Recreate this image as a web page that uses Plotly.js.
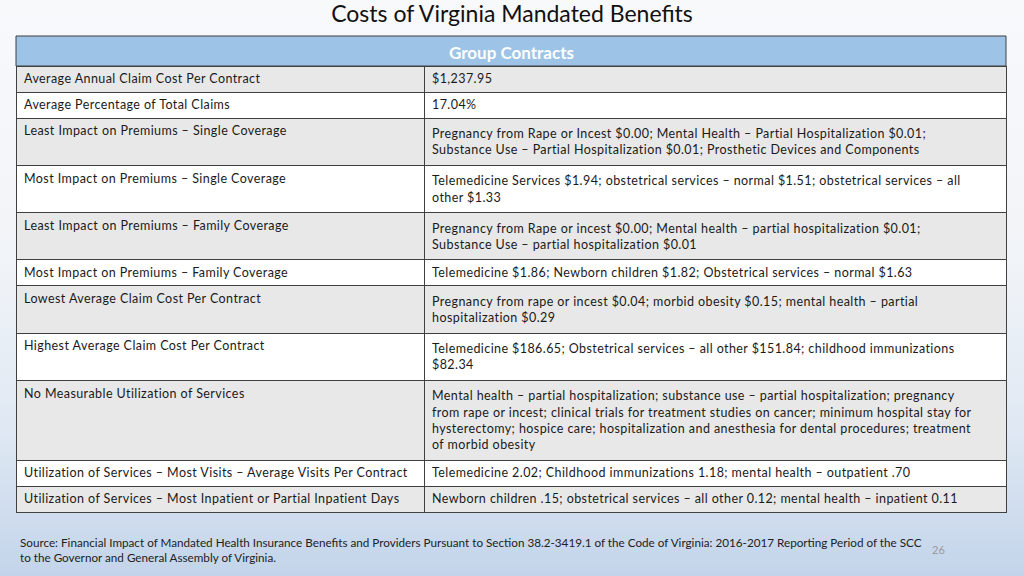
<!DOCTYPE html>
<html><head><meta charset="utf-8">
<script src="https://cdn.plot.ly/plotly-3.0.1.min.js"></script>
<style>
html,body{margin:0;padding:0;}
body{width:1024px;height:576px;overflow:hidden;background:linear-gradient(to bottom,#f8f9fb 0%,#f1f4f8 45%,#dfe8f3 75%,#c3d4ea 100%);}
#chart{width:1024px;height:576px;}
#chart .table .cell-text{letter-spacing:0.42px;}
</style></head>
<body><div id="chart"></div>
<script>
const chartTitle = "Costs of Virginia Mandated Benefits";
const groupHeader = "Group Contracts";
const measures = [
  "Average Annual Claim Cost Per Contract",
  "Average Percentage of Total Claims",
  "Least Impact on Premiums – Single Coverage",
  "Most Impact on Premiums – Single Coverage",
  "Least Impact on Premiums – Family Coverage",
  "Most Impact on Premiums – Family Coverage",
  "Lowest Average Claim Cost Per Contract",
  "Highest Average Claim Cost Per Contract",
  "No Measurable Utilization of Services",
  "Utilization of Services – Most Visits – Average Visits Per Contract",
  "Utilization of Services – Most Inpatient or Partial Inpatient Days"
];
const groupValues = [
  ["$1,237.95"],
  ["17.04%"],
  ["Pregnancy from Rape or Incest $0.00; Mental Health – Partial Hospitalization $0.01;",
   "Substance Use – Partial Hospitalization $0.01; Prosthetic Devices and Components"],
  ["Telemedicine Services $1.94; obstetrical services – normal $1.51; obstetrical services – all",
   "other $1.33"],
  ["Pregnancy from Rape or incest $0.00; Mental health – partial hospitalization $0.01;",
   "Substance Use – partial hospitalization $0.01"],
  ["Telemedicine $1.86; Newborn children $1.82; Obstetrical services – normal $1.63"],
  ["Pregnancy from rape or incest $0.04; morbid obesity $0.15; mental health – partial",
   "hospitalization $0.29"],
  ["Telemedicine $186.65; Obstetrical services – all other $151.84; childhood immunizations",
   "$82.34"],
  ["Mental health – partial hospitalization; substance use – partial hospitalization; pregnancy",
   "from rape or incest; clinical trials for treatment studies on cancer; minimum hospital stay for",
   "hysterectomy; hospice care; hospitalization and anesthesia for dental procedures; treatment",
   "of morbid obesity"],
  ["Telemedicine 2.02; Childhood immunizations 1.18; mental health – outpatient .70"],
  ["Newborn children .15; obstetrical services – all other 0.12; mental health – inpatient 0.11"]
];
const sourceNote = "Source: Financial Impact of Mandated Health Insurance Benefits and Providers Pursuant to Section 38.2-3419.1 of the Code of Virginia: 2016-2017 Reporting Period of the SCC<br>to the Governor and General Assembly of Virginia.";
const pageNumber = "26";

const W = 1024, H = 576;
const FONT = "Lato, 'Noto Sans', sans-serif";
const px = v => v / W, py = v => 1 - v / H;
const valueText = groupValues.map(l => l.join("<br>"));
const bodyFill = measures.slice(1).map((_, i) => i % 2 === 0 ? "#ffffff" : "#e8e8e8");
const cellFont = {family: FONT, size: 12.5, color: "#1a1a1a"};
const border = {color: "#404040", width: 1};

const trace = {
  type: "table",
  domain: {x: [px(16), px(1006)], y: [py(570), py(66)]},
  columnwidth: [408, 582],
  header: {
    values: [measures[0], valueText[0]],
    align: "left", height: 26,
    fill: {color: "#e8e8e8"}, line: border, font: cellFont
  },
  cells: {
    values: [measures.slice(1), valueText.slice(1)],
    align: "left", height: 26,
    fill: {color: [bodyFill, bodyFill]}, line: border, font: cellFont
  }
};

const layout = {
  width: W, height: H,
  margin: {l: 0, r: 0, t: 0, b: 0},
  paper_bgcolor: "rgba(0,0,0,0)",
  plot_bgcolor: "rgba(0,0,0,0)",
  title: {text: chartTitle, x: 0.5, xanchor: "center", y: py(14), yanchor: "middle",
          font: {family: FONT, size: 23, color: "#111"}},
  shapes: [{type: "rect", xref: "paper", yref: "paper", x0: px(16), x1: px(1006), y0: py(66), y1: py(36),
            fillcolor: "#9dc3e6", line: {color: "#404040", width: 1}, layer: "below"}],
  annotations: [
    {text: "<b>" + groupHeader + "</b>", xref: "paper", yref: "paper", x: px(511), y: py(52),
     xanchor: "center", yanchor: "middle", showarrow: false, font: {family: FONT, size: 17, color: "#ffffff"}},
    {text: sourceNote, xref: "paper", yref: "paper", x: px(18), y: py(549), xanchor: "left", yanchor: "middle",
     align: "left", showarrow: false, font: {family: FONT, size: 11.7, color: "#222"}},
    {text: pageNumber, xref: "paper", yref: "paper", x: px(938), y: py(549), xanchor: "center", yanchor: "middle",
     showarrow: false, font: {family: FONT, size: 11, color: "#9a9a9a"}}
  ]
};
Plotly.newPlot("chart", [trace], layout, {displayModeBar: false, staticPlot: true});
</script></body></html>
